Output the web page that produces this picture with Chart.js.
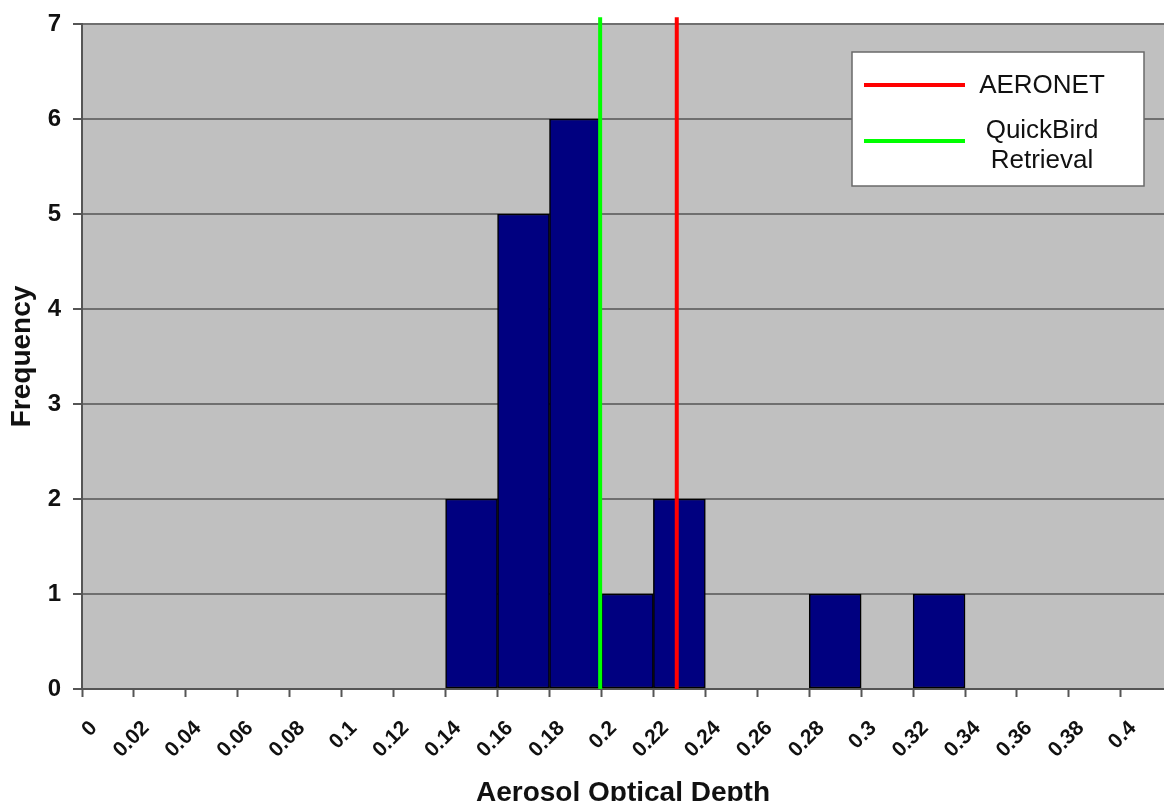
<!DOCTYPE html>
<html><head><meta charset="utf-8">
<script src="https://cdn.jsdelivr.net/npm/chart.js@4/dist/chart.umd.min.js"></script>
<style>html,body{margin:0;padding:0;background:#fff;overflow:hidden}#wrap{width:1164px;height:801px;position:relative}</style>
</head><body><div id="wrap"><canvas id="c" width="1164" height="801"></canvas></div>
<script>
// ---- data ----
const binStarts   = [0.14, 0.16, 0.18, 0.20, 0.22, 0.28, 0.32];
const frequencies = [2, 5, 6, 1, 2, 1, 1];
const binWidth = 0.02;
const xTickValues = [0,0.02,0.04,0.06,0.08,0.1,0.12,0.14,0.16,0.18,0.2,0.22,0.24,0.26,0.28,0.3,0.32,0.34,0.36,0.38,0.4];
const xTickLabels = ['0','0.02','0.04','0.06','0.08','0.1','0.12','0.14','0.16','0.18','0.2','0.22','0.24','0.26','0.28','0.3','0.32','0.34','0.36','0.38','0.4'];
const yTickValues = [0,1,2,3,4,5,6,7];
const seriesNames = ['AERONET', 'QuickBird Retrieval'];
const legendLines = [['AERONET'], ['QuickBird', 'Retrieval']];
const referenceAOD = [0.229, 0.1995];   // AERONET, QuickBird
const refLineSpan = [0, 7.07];
const xTitle = 'Aerosol Optical Depth';
const yTitle = 'Frequency';

const FONT = "'Liberation Sans', Arial, sans-serif";
Chart.defaults.font.family = FONT;
Chart.defaults.color = '#000';

const plotBg = {
  id: 'plotBg',
  beforeDraw(chart) {
    const {ctx, chartArea: a} = chart;
    ctx.save();
    ctx.fillStyle = '#C0C0C0';
    ctx.fillRect(a.left, a.top, a.right - a.left, a.bottom - a.top);
    ctx.restore();
  }
};

const boxLegend = {
  id: 'boxLegend',
  afterDatasetsDraw(chart) {
    const ctx = chart.ctx;
    const L = 852, T = 52, W = 292, H = 134;
    ctx.save();
    ctx.fillStyle = '#fff';
    ctx.fillRect(L, T, W, H);
    ctx.strokeStyle = '#6a6a6a';
    ctx.lineWidth = 1.5;
    ctx.strokeRect(L, T, W, H);
    const rows = [{y: 85, ds: chart.data.datasets[1], lines: legendLines[0]},
                  {y: 141, ds: chart.data.datasets[2], lines: legendLines[1]}];
    ctx.font = "26px " + FONT;
    ctx.textAlign = 'center';
    ctx.textBaseline = 'middle';
    rows.forEach(r => {
      ctx.strokeStyle = r.ds.borderColor;
      ctx.lineWidth = 4;
      ctx.beginPath();
      ctx.moveTo(864, r.y); ctx.lineTo(965, r.y);
      ctx.stroke();
      ctx.fillStyle = '#111';
      const lh = 30;
      const y0 = r.lines.length > 1 ? r.y - lh / 2 + 5 : r.y + 1;
      r.lines.forEach((t, i) => ctx.fillText(t, 1042, y0 + i * lh));
    });
    ctx.restore();
  }
};

new Chart(document.getElementById('c'), {
  type: 'bar',
  data: {
    datasets: [
      {
        type: 'bar',
        label: 'Frequency',
        data: binStarts.map((s, i) => ({x: s + binWidth / 2, y: frequencies[i]})),
        backgroundColor: '#000080',
        borderColor: '#000000',
        borderWidth: 1.5,
        borderSkipped: false,
        barPercentage: 1,
        categoryPercentage: 1,
        order: 2
      },
      {
        type: 'line',
        label: seriesNames[0],
        data: refLineSpan.map(v => ({x: referenceAOD[0], y: v})),
        borderColor: '#FF0000',
        borderWidth: 4,
        pointRadius: 0,
        clip: false,
        order: 0
      },
      {
        type: 'line',
        label: seriesNames[1],
        data: refLineSpan.map(v => ({x: referenceAOD[1], y: v})),
        borderColor: '#00FF00',
        borderWidth: 4,
        pointRadius: 0,
        clip: false,
        order: 1
      }
    ]
  },
  options: {
    responsive: false,
    animation: false,
    devicePixelRatio: 1,
    layout: {padding: {top: 24, right: 0, bottom: 0, left: 0}},
    plugins: {legend: {display: false}, tooltip: {enabled: false}},
    scales: {
      x: {
        type: 'linear',
        offset: false,
        min: 0,
        max: 0.4166,
        afterBuildTicks: s => { s.ticks = xTickValues.map(v => ({value: v})); },
        afterFit: s => { s.height = 112; s.paddingLeft = 0; s.paddingRight = 0; },
        ticks: {
          autoSkip: false, minRotation: 45, maxRotation: 45,
          padding: 19, labelOffset: 12,
          font: {size: 21, weight: 'bold'}, color: '#111',
          callback: (v, i) => xTickLabels[i]
        },
        grid: {offset: false, drawOnChartArea: false, drawTicks: true, tickLength: 8, tickColor: '#555', tickWidth: 2},
        border: {display: true, color: '#555', width: 2},
        title: {display: true, text: xTitle, font: {size: 28, weight: 'bold'}, color: '#111', padding: {top: 0, bottom: -9}}
      },
      y: {
        min: 0,
        max: 7,
        afterBuildTicks: s => { s.ticks = yTickValues.map(v => ({value: v})); },
        afterFit: s => { s.width = 82; s.paddingTop = 0; s.paddingBottom = 0; },
        ticks: {padding: 12, font: {size: 24, weight: 'bold'}, color: '#111'},
        grid: {color: '#6f6f6f', lineWidth: 2, tickLength: 9, tickColor: '#555', tickWidth: 2},
        border: {display: true, color: '#555', width: 2},
        title: {display: true, text: yTitle, font: {size: 28, weight: 'bold'}, color: '#111', padding: {top: 5, bottom: 0}}
      }
    }
  },
  plugins: [plotBg, boxLegend]
});
</script></body></html>
